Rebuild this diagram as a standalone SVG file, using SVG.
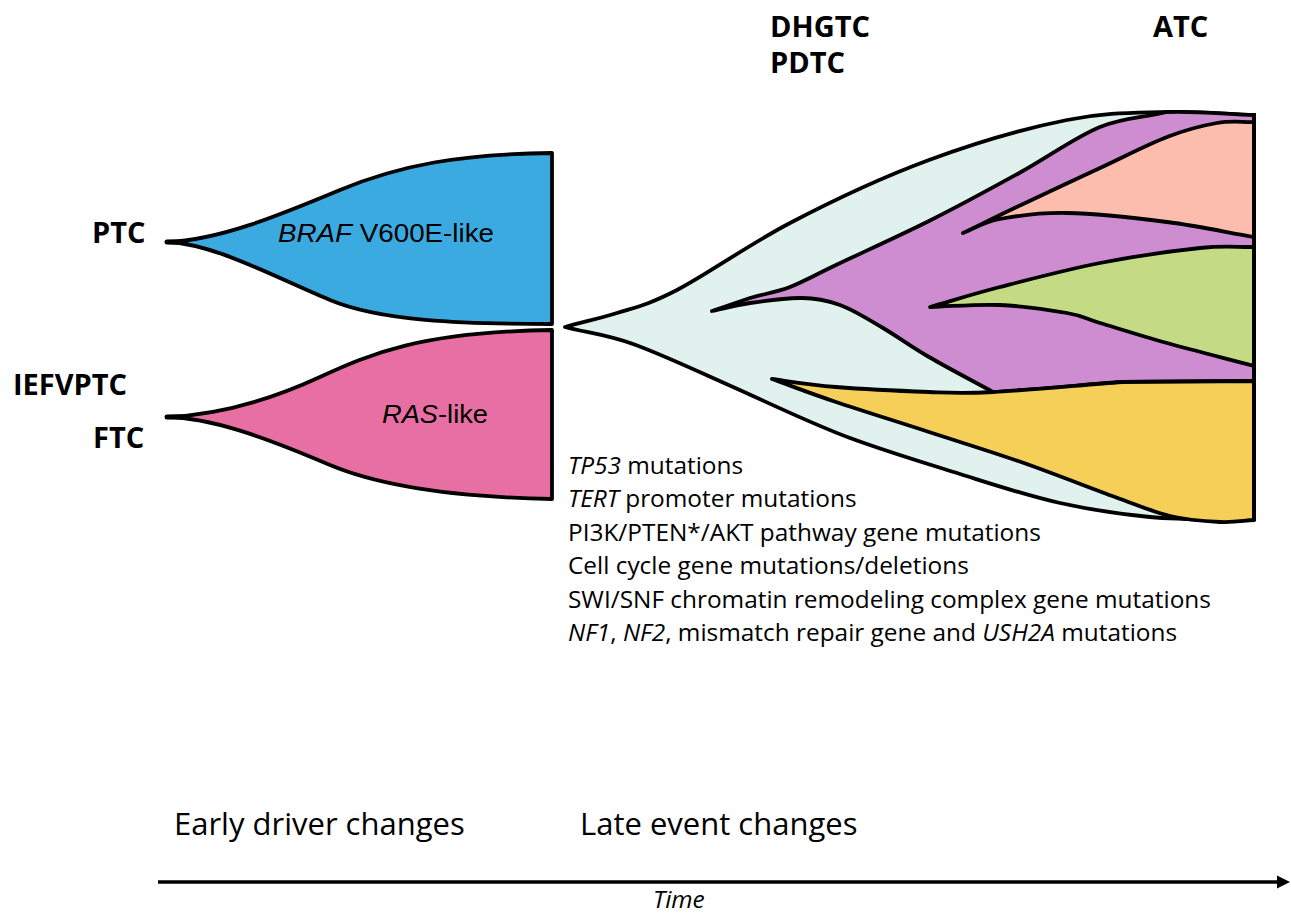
<svg xmlns="http://www.w3.org/2000/svg" width="1291" height="913" viewBox="0 0 1291 913">
<style>
.sh{stroke:#000;stroke-width:3.8;stroke-linejoin:round;stroke-linecap:round}
.tail{stroke:#000;stroke-width:5;stroke-linecap:round}
.lbl{font-family:"Open Sans","Noto Sans","Liberation Sans",sans-serif;font-weight:bold;font-size:29px;fill:#000}
.gene{font-family:"Liberation Sans",Arial,sans-serif;font-size:25px;fill:#000}
.mut{font-family:"Open Sans","Noto Sans","Liberation Sans",sans-serif;font-size:24.4px;fill:#000}
.phase{font-family:"Open Sans","Noto Sans","Liberation Sans",sans-serif;font-size:31px;fill:#000}
.it{font-style:italic}
</style>
<rect width="1291" height="913" fill="#fff"/>

<g id="braf">
<path class="sh" fill="#3BAAE0" d="M167,242 C220,240 280,215 340,190 C400,165 460,154 552,153 L552,324 C460,324 380,321 330,300 C270,275 215,244 167,242 Z"/>
<line class="tail" x1="167" y1="242" x2="186" y2="242"/>
<text class="gene" x="278" y="242" textLength="216" lengthAdjust="spacingAndGlyphs"><tspan class="it">BRAF</tspan> V600E-like</text>
</g>
<g id="ras">
<path class="sh" fill="#E86FA3" d="M167,417 C220,415 270,400 320,377 C370,354 420,332 552,330 L552,499 C450,497 380,486 330,465 C260,435 210,418 167,417 Z"/>
<line class="tail" x1="167" y1="417" x2="186" y2="417"/>
<text class="gene" x="382" y="423" textLength="106" lengthAdjust="spacingAndGlyphs"><tspan class="it">RAS</tspan>-like</text>
</g>

<g id="late-clone">
<path class="sh" fill="#E0F1EE" d="M565,327 C582,322 598,319 617,313 C636,307 648,305 677,290 C706,275 748,245 790,223 C832,201 883,177 929,160 C975,143 1027,128 1067,120 C1107,112 1136,113 1167,112 C1198,111 1225,114 1254,115 L1254,520 C1219,519 1182,520 1150,517 C1118,514 1092,510 1060,503 C1028,496 995,485 960,474 C925,463 888,452 850,438 C812,424 769,403 733,387 C697,371 661,354 633,344 C605,334 588,333 565,327 Z"/>
</g>
<g id="purple-clone">
<path class="sh" fill="#CE8DD0" d="M712,311 C725,307 737,302 750,298 C763,294 776,292.5 790,287 C804,281.5 813,276 836,265 C859,254 898,236.5 929,221 C960,205.5 992.5,187.7 1021,172 C1049.5,156.3 1075.7,136.8 1100,127 C1124.3,117.2 1144.7,117.7 1167,112 C1198,111 1225,114 1254,115 L1254,381 L1122,382 C1079,385.3 1025,390.3 993,392 C971.7,380.3 947.3,367.7 929,357 C910.7,346.3 897.8,336.7 883,328 C868.2,319.3 853.8,310 840,305 C826.2,300 815,297.7 800,298 C785,298.3 764.7,300.8 750,303 C735.3,305.2 724.7,308.3 712,311 Z"/>
</g>
<g id="salmon-clone">
<path class="sh" fill="#FDBDAE" d="M963,233 C982.3,223.7 998.2,215.8 1021,205 C1043.8,194.2 1075.7,179.3 1100,168 C1124.3,156.7 1147.5,144.5 1167,137 C1186.5,129.5 1202.5,125.5 1217,123 C1231.5,120.5 1241.7,122.3 1254,122 L1254,237 C1225,232 1198.2,226 1167,222 C1135.8,218 1094.8,213.5 1067,213 C1039.2,212.5 1017.3,215.7 1000,219 C982.7,222.3 975.3,228.3 963,233 Z"/>
</g>
<g id="green-clone">
<path class="sh" fill="#C5DA84" d="M930,307 C953.3,300.3 971.7,294.3 1000,287 C1028.3,279.7 1066.7,269.5 1100,263 C1133.3,256.5 1174.3,250.7 1200,248 C1225.7,245.3 1236,247.3 1254,247 L1254,366 C1225,358.3 1192.7,350.2 1167,343 C1141.3,335.8 1116.7,328 1100,323 C1083.3,318 1083.7,316 1067,313 C1050.3,310 1022.8,306 1000,305 C977.2,304 953.3,306.3 930,307 Z"/>
</g>
<g id="yellow-clone">
<path class="sh" fill="#F6CF58" d="M772,379 C793,382 810,385 836,387 C862,389 903,391 929,392 C955,393 961,393.7 993,392 C1025,390.3 1079,385.3 1122,382 L1254,381 L1254,520 C1242.7,520.7 1234,522.7 1220,522 C1206,521.3 1187.5,520.2 1170,516 C1152.5,511.8 1139.8,506 1115,497 C1090.2,488 1052,472.8 1021,462 C990,451.2 959.8,442 929,432 C898.2,422 862.2,410.8 836,402 C809.8,393.2 793.3,386.7 772,379 Z"/>
</g>
<g id="right-edge">
<line x1="1254" y1="113" x2="1254" y2="521" stroke="#000" stroke-width="4"/>
</g>

<g id="labels">
<text class="lbl" x="92" y="243">PTC</text>
<text class="lbl" x="13" y="395">IEFVPTC</text>
<text class="lbl" x="93" y="448">FTC</text>
<text class="lbl" x="770" y="37">DHGTC</text>
<text class="lbl" x="770" y="73">PDTC</text>
<text class="lbl" x="1153" y="37">ATC</text>
</g>

<g id="mutations">
<text class="mut" x="568" y="474"><tspan class="it">TP53</tspan> mutations</text>
<text class="mut" x="568" y="507"><tspan class="it">TERT</tspan> promoter mutations</text>
<text class="mut" x="568" y="541">PI3K/PTEN*/AKT pathway gene mutations</text>
<text class="mut" x="568" y="574">Cell cycle gene mutations/deletions</text>
<text class="mut" x="568" y="608">SWI/SNF chromatin remodeling complex gene mutations</text>
<text class="mut" x="568" y="641"><tspan class="it">NF1</tspan>, <tspan class="it">NF2</tspan>, mismatch repair gene and <tspan class="it">USH2A</tspan> mutations</text>
</g>

<g id="phases">
<text class="phase" x="174" y="835">Early driver changes</text>
<text class="phase" x="580" y="835">Late event changes</text>
</g>

<g id="connectors">
<line x1="158" y1="882" x2="1280" y2="882" stroke="#000" stroke-width="3.5"/>
<polygon points="1277,875.5 1290,882 1277,888.5" fill="#000"/>
<text class="mut it" x="653" y="908" font-size="22">Time</text>
</g>
</svg>
